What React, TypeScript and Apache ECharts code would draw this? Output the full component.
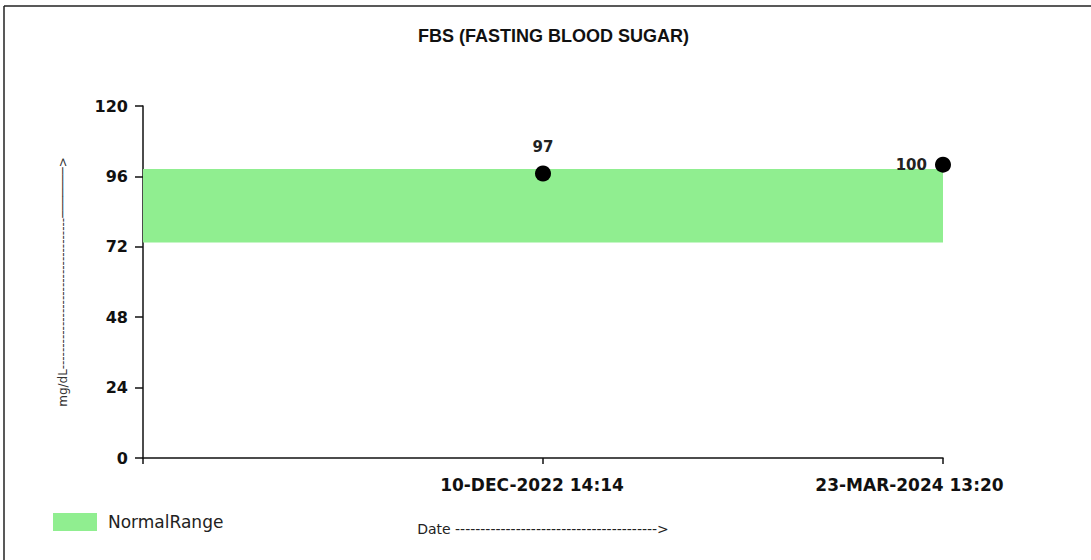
import React, { useEffect, useRef } from "react";
import * as echarts from "echarts";

const titleText = "FBS (FASTING BLOOD SUGAR)";
const dates = ["10-DEC-2022 14:14", "23-MAR-2024 13:20"];
const values = [97, 100];
const normalRange = [73.5, 98.5];
const yTicks = [0, 24, 48, 72, 96, 120];
const legendName = "NormalRange";

export default function App() {
  const ref = useRef<HTMLDivElement>(null);
  useEffect(() => {
    const chart = echarts.init(ref.current!, null, { renderer: "svg" });
    const boldFont = "DejaVu Sans";
    const labelRich = {
      fontFamily: boldFont,
      fontWeight: "bold",
      fontSize: 17,
      color: "#111",
    };
    chart.setOption({
      animation: false,
      backgroundColor: "#ffffff",
      title: {
        text: titleText,
        left: 413,
        top: 22,
        textStyle: { fontFamily: "Liberation Sans", fontWeight: "bold", fontSize: 18, color: "#111" },
      },
      legend: {
        data: [legendName],
        left: 48,
        top: 508,
        icon: "rect",
        itemWidth: 44,
        itemHeight: 18,
        itemGap: 10,
        textStyle: { fontFamily: "DejaVu Sans", fontSize: 17, color: "#222", padding: [0, 0, 0, 6] },
      },
      grid: { left: 143, top: 106, width: 800, height: 352, containLabel: false },
      xAxis: {
        type: "value",
        min: 0,
        max: dates.length,
        interval: 1,
        name: "Date " + "-".repeat(40) + ">",
        nameLocation: "middle",
        nameGap: 64,
        nameTextStyle: { fontFamily: "DejaVu Sans", fontSize: 14, color: "#222" },
        axisLine: { lineStyle: { color: "#111", width: 1.5 } },
        axisTick: { show: true, length: 6, lineStyle: { color: "#111", width: 1.5 } },
        axisLabel: {
          margin: 18,
          formatter: (v: number) =>
            v >= 1 && v <= dates.length ? `{d${v}|${dates[v - 1]}}` : "",
          rich: {
            d1: { ...labelRich, padding: [0, 22, 0, 0] },
            d2: { ...labelRich, padding: [0, 67, 0, 0] },
          },
          ...labelRich,
        },
        splitLine: { show: false },
      },
      yAxis: {
        type: "value",
        min: yTicks[0],
        max: yTicks[yTicks.length - 1],
        interval: 24,
        name: "mg/dL" + "-".repeat(35) + "───────>",
        nameLocation: "middle",
        nameRotate: 90,
        nameGap: 74,
        nameTextStyle: { fontFamily: "DejaVu Sans", fontSize: 12, color: "#333" },
        axisLine: { show: true, lineStyle: { color: "#111", width: 1.5 } },
        axisTick: { show: true, length: 8, lineStyle: { color: "#111", width: 1.5 } },
        axisLabel: {
          margin: 15,
          fontFamily: boldFont,
          fontWeight: "bold",
          fontSize: 16,
          color: "#111",
        },
        splitLine: { show: false },
      },
      series: [
        {
          name: legendName,
          type: "line",
          data: [],
          color: "#90EE90",
          itemStyle: { color: "#90EE90" },
          markArea: {
            silent: true,
            itemStyle: { color: "#90EE90", opacity: 1 },
            data: [[{ xAxis: 0, yAxis: normalRange[0] }, { xAxis: dates.length, yAxis: normalRange[1] }]],
          },
        },
        {
          name: "FBS",
          type: "scatter",
          symbolSize: 16,
          itemStyle: { color: "#000", opacity: 1 },
          z: 5,
          data: values.map((v, i) => ({
            value: [i + 1, v],
            label: {
              show: true,
              position: i === values.length - 1 ? "left" : "top",
              distance: i === values.length - 1 ? 8 : 11,
              formatter: String(v),
              fontFamily: "DejaVu Sans",
              fontWeight: "bold",
              fontSize: 15,
              color: "#222",
            },
          })),
        },
      ],
      graphic: [
        { type: "line", shape: { x1: 4, y1: 6, x2: 1091, y2: 6 }, style: { stroke: "#222", lineWidth: 1.5 } },
        { type: "line", shape: { x1: 4, y1: 6, x2: 4, y2: 560 }, style: { stroke: "#222", lineWidth: 1.5 } },
      ],
    });
    return () => chart.dispose();
  }, []);
  return <div ref={ref} style={{ position: "fixed", left: 0, top: 0, width: 1091, height: 560 }} />;
}
